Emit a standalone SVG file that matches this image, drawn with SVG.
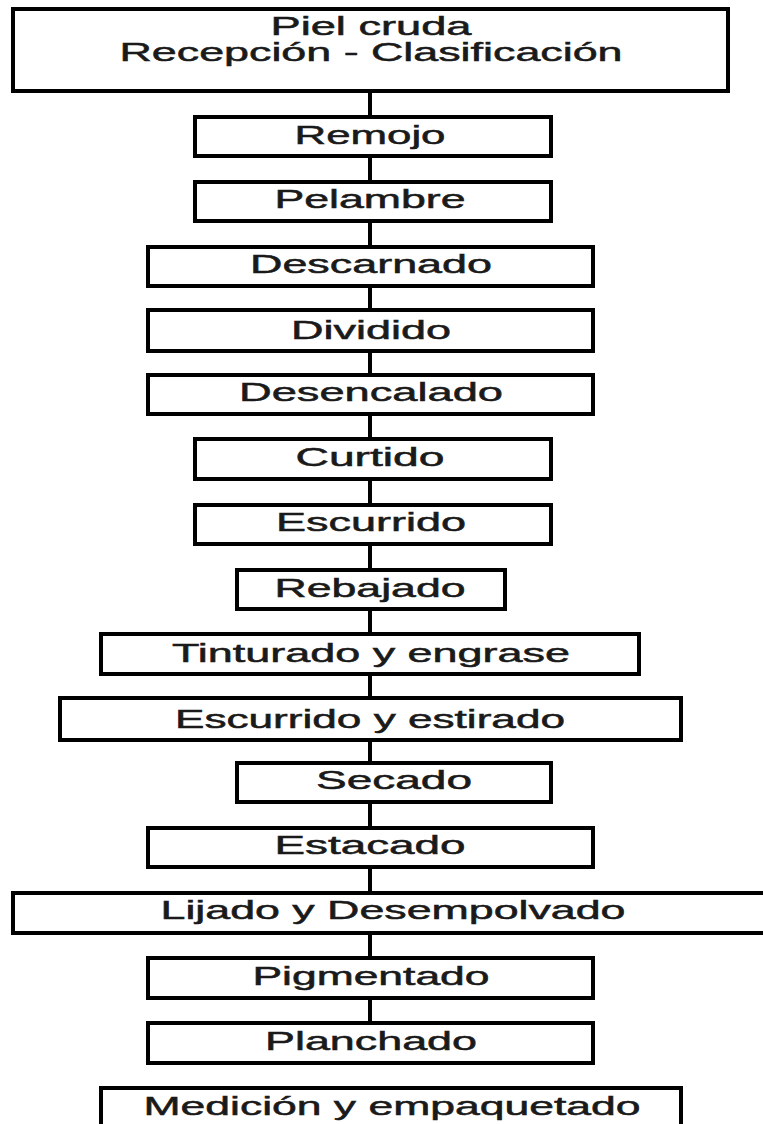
<svg xmlns="http://www.w3.org/2000/svg" width="763" height="1124" viewBox="0 0 763 1124">
  <style>
    .box { fill: #ffffff; stroke: #000000; stroke-width: 4; }
    .lbl { font-family: "Liberation Sans", Arial, sans-serif; font-size: 25px; fill: #1a1a1a; stroke: #1a1a1a; stroke-width: 0.5; text-anchor: middle; }
    .con { stroke: #000000; stroke-width: 4; fill: none; }
  </style>
  <rect width="763" height="1124" fill="#ffffff"/>

  <!-- connectors: one vertical chain through the middle -->
  <g id="connectors">
    <line class="con" x1="370" y1="93" x2="370" y2="115"/>
    <line class="con" x1="370" y1="158" x2="370" y2="180"/>
    <line class="con" x1="370" y1="223" x2="370" y2="245"/>
    <line class="con" x1="370" y1="288" x2="370" y2="308"/>
    <line class="con" x1="370" y1="353" x2="370" y2="373"/>
    <line class="con" x1="370" y1="416" x2="370" y2="437"/>
    <line class="con" x1="370" y1="481" x2="370" y2="503"/>
    <line class="con" x1="370" y1="546" x2="370" y2="568"/>
    <line class="con" x1="370" y1="611" x2="370" y2="632"/>
    <line class="con" x1="370" y1="676" x2="370" y2="696"/>
    <line class="con" x1="370" y1="742" x2="370" y2="761"/>
    <line class="con" x1="370" y1="804" x2="370" y2="826"/>
    <line class="con" x1="370" y1="869" x2="370" y2="891"/>
    <line class="con" x1="370" y1="935" x2="370" y2="956"/>
    <line class="con" x1="370" y1="1000" x2="370" y2="1021"/>
  </g>

  <g id="piel-cruda">
    <rect class="box" x="13" y="9" width="715" height="82"/>
    <text class="lbl" x="371" y="35" textLength="201" lengthAdjust="spacingAndGlyphs">Piel cruda</text>
    <text class="lbl" x="371" y="61" textLength="503" lengthAdjust="spacingAndGlyphs">Recepción - Clasificación</text>
  </g>
  <g id="remojo">
    <rect class="box" x="195" y="117" width="356" height="39"/>
    <text class="lbl" x="370" y="144" textLength="151" lengthAdjust="spacingAndGlyphs">Remojo</text>
  </g>
  <g id="pelambre">
    <rect class="box" x="195" y="182" width="356" height="39"/>
    <text class="lbl" x="370" y="208" textLength="191" lengthAdjust="spacingAndGlyphs">Pelambre</text>
  </g>
  <g id="descarnado">
    <rect class="box" x="148" y="247" width="445" height="39"/>
    <text class="lbl" x="371" y="273" textLength="242" lengthAdjust="spacingAndGlyphs">Descarnado</text>
  </g>
  <g id="dividido">
    <rect class="box" x="148" y="310" width="445" height="41"/>
    <text class="lbl" x="371" y="339" textLength="160" lengthAdjust="spacingAndGlyphs">Dividido</text>
  </g>
  <g id="desencalado">
    <rect class="box" x="148" y="375" width="445" height="39"/>
    <text class="lbl" x="371" y="401" textLength="264" lengthAdjust="spacingAndGlyphs">Desencalado</text>
  </g>
  <g id="curtido">
    <rect class="box" x="195" y="439" width="356" height="40"/>
    <text class="lbl" x="370" y="466" textLength="149" lengthAdjust="spacingAndGlyphs">Curtido</text>
  </g>
  <g id="escurrido">
    <rect class="box" x="195" y="505" width="356" height="39"/>
    <text class="lbl" x="371" y="531" textLength="190" lengthAdjust="spacingAndGlyphs">Escurrido</text>
  </g>
  <g id="rebajado">
    <rect class="box" x="237" y="570" width="268" height="39"/>
    <text class="lbl" x="370" y="597" textLength="191" lengthAdjust="spacingAndGlyphs">Rebajado</text>
  </g>
  <g id="tinturado">
    <rect class="box" x="101" y="634" width="538" height="40"/>
    <text class="lbl" x="371" y="662" textLength="398" lengthAdjust="spacingAndGlyphs">Tinturado y engrase</text>
  </g>
  <g id="escurrido-estirado">
    <rect class="box" x="60" y="698" width="621" height="42"/>
    <text class="lbl" x="370" y="728" textLength="390" lengthAdjust="spacingAndGlyphs">Escurrido y estirado</text>
  </g>
  <g id="secado">
    <rect class="box" x="237" y="763" width="314" height="39"/>
    <text class="lbl" x="394" y="789" textLength="156" lengthAdjust="spacingAndGlyphs">Secado</text>
  </g>
  <g id="estacado">
    <rect class="box" x="148" y="828" width="445" height="39"/>
    <text class="lbl" x="370" y="854" textLength="191" lengthAdjust="spacingAndGlyphs">Estacado</text>
  </g>
  <g id="lijado">
    <rect class="box" x="13" y="893" width="760" height="40"/>
    <text class="lbl" x="393" y="919" textLength="465" lengthAdjust="spacingAndGlyphs">Lijado y Desempolvado</text>
  </g>
  <g id="pigmentado">
    <rect class="box" x="148" y="958" width="445" height="40"/>
    <text class="lbl" x="371" y="985" textLength="237" lengthAdjust="spacingAndGlyphs">Pigmentado</text>
  </g>
  <g id="planchado">
    <rect class="box" x="148" y="1023" width="445" height="40"/>
    <text class="lbl" x="371" y="1050" textLength="212" lengthAdjust="spacingAndGlyphs">Planchado</text>
  </g>
  <g id="medicion">
    <rect class="box" x="101" y="1088" width="580" height="60"/>
    <text class="lbl" x="392" y="1115" textLength="497" lengthAdjust="spacingAndGlyphs">Medición y empaquetado</text>
  </g>
</svg>
